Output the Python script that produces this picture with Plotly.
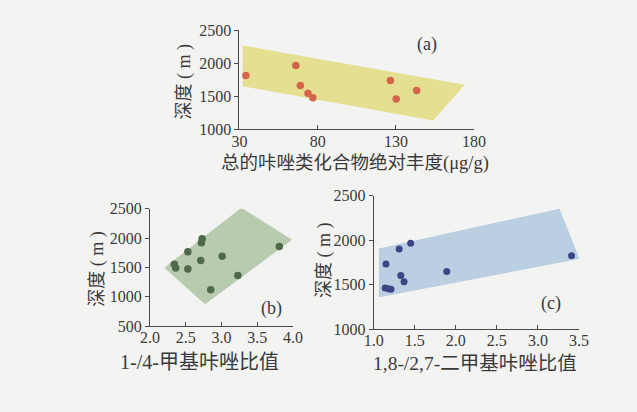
import plotly.graph_objects as go

W, H = 637, 412

# ---------------- data ----------------
# panel (a): total carbazole abundance vs depth
a_x = [34.1, 66.0, 68.9, 73.8, 76.9, 126.5, 130.2, 143.3]
a_y = [1818, 1967, 1667, 1547, 1479, 1740, 1460, 1590]
a_poly_x = [32, 174, 153.8, 32]
a_poly_y = [2272, 1677, 1136, 1653]

# panel (b): 1-/4-methylcarbazole ratio vs depth
b_x = [2.34, 2.36, 2.53, 2.53, 2.71, 2.72, 2.73, 2.85, 3.01, 3.23, 3.81]
b_y = [1552, 1487, 1765, 1471, 1618, 1917, 1987, 1116, 1688, 1361, 1856]
b_poly_x = [3.28, 3.99, 2.77, 2.20]
b_poly_y = [2516, 1971, 871, 1492]

# panel (c): 1,8-/2,7-dimethylcarbazole ratio vs depth
c_x = [1.15, 1.14, 1.18, 1.21, 1.31, 1.33, 1.37, 1.45, 1.89, 3.41]
c_y = [1732, 1462, 1455, 1448, 1901, 1602, 1534, 1965, 1649, 1825]
c_poly_x = [1.064, 3.264, 3.508, 1.064]
c_poly_y = [1907, 2353, 1789, 1358]

a_xticks = [30, 80, 130, 180]
a_yticks = [1000, 1500, 2000, 2500]
b_xticks = [2.0, 2.5, 3.0, 3.5, 4.0]
b_yticks = [500, 1000, 1500, 2000, 2500]
c_xticks = [1.0, 1.5, 2.0, 2.5, 3.0, 3.5]
c_yticks = [1000, 1500, 2000, 2500]

# ---------------- styles ----------------
FONT = "Liberation Serif, Noto Sans CJK SC, serif"
TXT = "#3a3a3a"
AX = "#4a4a4a"
BG = "#f3f3f1"


def px(x):
    return x / W


def py(y):
    return 1 - y / H


fig = go.Figure()

panels = [
    dict(sx="x", sy="y", px_=a_poly_x, py_=a_poly_y, fill="rgba(226,220,128,0.85)",
         mx=a_x, my=a_y, mc="#d4654b", ms=7.5),
    dict(sx="x2", sy="y2", px_=b_poly_x, py_=b_poly_y, fill="rgba(178,198,166,0.9)",
         mx=b_x, my=b_y, mc="#4e6a4a", ms=7.5),
    dict(sx="x3", sy="y3", px_=c_poly_x, py_=c_poly_y, fill="rgba(182,204,224,0.95)",
         mx=c_x, my=c_y, mc="#3d4585", ms=7),
]
for p in panels:
    fig.add_trace(go.Scatter(x=p["px_"], y=p["py_"], xaxis=p["sx"], yaxis=p["sy"],
                             fill="toself", fillcolor=p["fill"], mode="lines",
                             line=dict(width=0), hoverinfo="skip", showlegend=False))
    fig.add_trace(go.Scatter(x=p["mx"], y=p["my"], xaxis=p["sx"], yaxis=p["sy"],
                             mode="markers", marker=dict(color=p["mc"], size=p["ms"]),
                             showlegend=False))

common_x = dict(showline=True, linecolor=AX, linewidth=1, ticks="inside", ticklen=4,
                tickcolor=AX, showgrid=False, zeroline=False, ticklabelstandoff=-3,
                tickfont=dict(family=FONT, size=16, color=TXT))
common_y = dict(showline=True, linecolor=AX, linewidth=1, ticks="outside", ticklen=4,
                tickcolor=AX, showgrid=False, zeroline=False,
                tickfont=dict(family=FONT, size=16, color=TXT))

fig.update_layout(
    width=W, height=H,
    margin=dict(l=0, r=0, t=0, b=0),
    paper_bgcolor=BG, plot_bgcolor="rgba(0,0,0,0)",
    xaxis=dict(common_x, domain=[px(237.7), px(480.7)], range=[30, 180],
               tickvals=a_xticks, ticktext=[str(v) for v in a_xticks], anchor="y"),
    yaxis=dict(common_y, domain=[py(126.7), py(23.3)], range=[1000, 2500],
               tickvals=a_yticks, anchor="x"),
    xaxis2=dict(common_x, domain=[px(145), px(293)], range=[2.0, 4.0],
                tickvals=b_xticks, ticktext=[f"{v:.1f}" for v in b_xticks], anchor="y2"),
    yaxis2=dict(common_y, domain=[py(331.7), py(209.3)], range=[500, 2500],
                tickvals=b_yticks, anchor="x2"),
    xaxis3=dict(common_x, domain=[px(376.7), px(589.3)], range=[1.0, 3.5],
                tickvals=c_xticks, ticktext=[f"{v:.1f}" for v in c_xticks], anchor="y3"),
    yaxis3=dict(common_y, domain=[py(335), py(195.7)], range=[1000, 2500],
                tickvals=c_yticks, anchor="x3"),
)

ann = [
    # x titles
    dict(text="总的咔唑类化合物绝对丰度(μg/g)", x=px(357), y=py(162), size=18.5, angle=0),
    dict(text="1-/4-甲基咔唑比值", x=px(196), y=py(369), size=20, angle=0),
    dict(text="1,8-/2,7-二甲基咔唑比值", x=px(482), y=py(371), size=19.5, angle=0),
    # y titles
    dict(text="深度 ( m )", x=px(181), y=py(77), size=18, angle=-90),
    dict(text="深度 ( m )", x=px(91), y=py(272), size=18, angle=-90),
    dict(text="深度 ( m )", x=px(325), y=py(263), size=18, angle=-90),
    # panel labels
    dict(text="(a)", x=px(432), y=py(38), size=18, angle=0),
    dict(text="(b)", x=px(271), y=py(313), size=18, angle=0),
    dict(text="(c)", x=px(560), y=py(308), size=18, angle=0),
]
for a in ann:
    fig.add_annotation(text=a["text"], x=a["x"], y=a["y"], xref="paper", yref="paper",
                       xanchor="center", yanchor="middle", showarrow=False,
                       textangle=a["angle"], font=dict(family=FONT, size=a["size"], color=TXT))

fig.write_html(
    "out.html",
    config={"displayModeBar": False},
    post_script=f"document.body.style.margin='0';document.body.style.overflow='hidden';"
                f"document.body.style.background='{BG}';",
)
